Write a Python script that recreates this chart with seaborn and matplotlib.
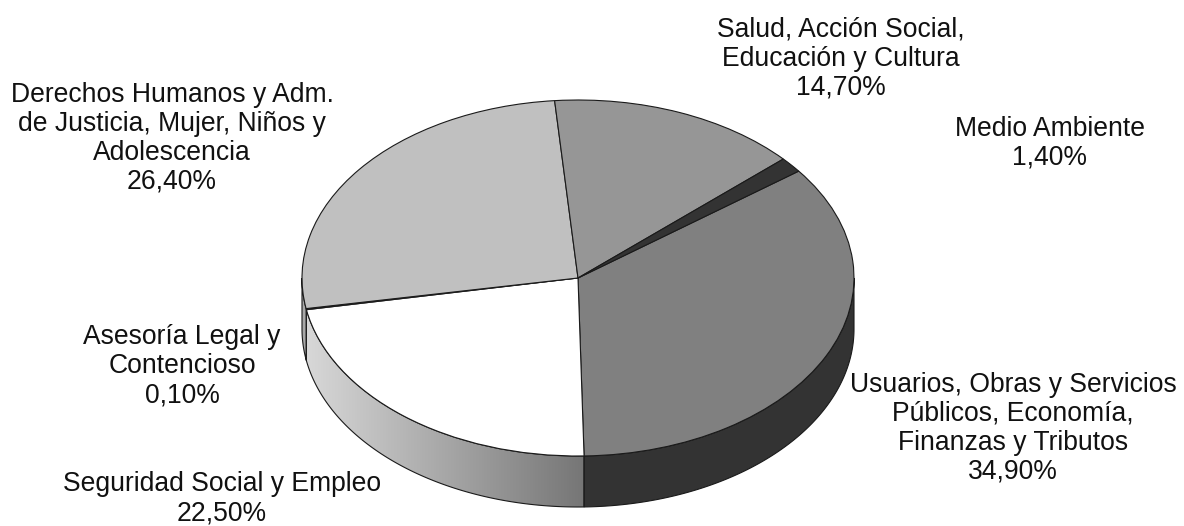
import numpy as np
import matplotlib
matplotlib.use("Agg")
import matplotlib.pyplot as plt
import matplotlib.patches as mpatches
import matplotlib.transforms as mtransforms
import seaborn as sns

# ---- data (clockwise from the Medio Ambiente / Usuarios border) ----
categories = [
    "Usuarios, Obras y Servicios\nPúblicos, Economía,\nFinanzas y Tributos",
    "Seguridad Social y Empleo",
    "Asesoría Legal y\nContencioso",
    "Derechos Humanos y Adm.\nde Justicia, Mujer, Niños y\nAdolescencia",
    "Salud, Acción Social,\nEducación y Cultura",
    "Medio Ambiente",
]
shares = [34.9, 22.5, 0.1, 26.4, 14.7, 1.4]

# ---- styling ----
top_colors = ["#808080", "#ffffff", "#dcdcdc", "#c0c0c0", "#969696", "#333333"]
side_colors = ["#333333", None, "#b4b4b4", "#a8a8a8", "#6e6e6e", "#222222"]
gradient_ends = ["#d8d8d8", "#767676"]   # shaded side of the white slice
label_pos = [(1013, 392), (222, 491), (182, 344), (172, 102), (841, 37), (1050, 136)]
LINE_STEP = 29
FS = 19.1

W, H = 1184, 526
CX, CY = 578, 278      # centre of the top face (px)
RX, RY = 276, 178      # ellipse radii (px)
DEPTH = 51 / RY        # thickness in unit-circle y units
START = 36.9

sns.set_style("white")
plt.rcParams["font.family"] = ["Liberation Sans", "DejaVu Sans"]

fig = plt.figure(figsize=(W / 100, H / 100), dpi=100)
ax = fig.add_axes([0, 0, 1, 1])

wedges, _ = ax.pie(shares, startangle=START, counterclock=False, colors=top_colors,
                   wedgeprops=dict(edgecolor="#1a1a1a", linewidth=0.8))
ax.set_aspect("auto")
ax.set_xlim(0, W)
ax.set_ylim(H, 0)
ax.axis("off")

# unit circle -> tilted ellipse in pixel space
unit = mtransforms.Affine2D().scale(RX, -RY).translate(CX, CY)
for w in wedges:
    w.set_transform(unit + ax.transData)
    w.set_zorder(4)


def side_poly(lo, hi):
    t = np.radians(np.linspace(lo, hi, 120))
    top = np.column_stack([np.cos(t), np.sin(t)])
    bot = np.column_stack([np.cos(t[::-1]), np.sin(t[::-1]) - DEPTH])
    return np.vstack([top, bot])


grad_cmap = sns.blend_palette(gradient_ends, as_cmap=True)

# front wall of the pie (only the part facing the viewer)
for w, sc in zip(wedges, side_colors):
    for off in (-360, 0, 360):
        lo = max(w.theta1, 180 + off)
        hi = min(w.theta2, 360 + off)
        if hi <= lo:
            continue
        pts = side_poly(lo, hi)
        if sc is None:
            clip = mpatches.Polygon(pts, closed=True, facecolor="none", edgecolor="none",
                                    transform=unit + ax.transData)
            ax.add_patch(clip)
            px = unit.transform(pts)
            x0, x1 = px[:, 0].min(), px[:, 0].max()
            y0, y1 = px[:, 1].min(), px[:, 1].max()
            im = ax.imshow(np.linspace(0, 1, 256)[None, :], cmap=grad_cmap, aspect="auto",
                           extent=(x0, x1, y1, y0), zorder=2)
            im.set_clip_path(clip)
            ax.add_patch(mpatches.Polygon(pts, closed=True, facecolor="none",
                                          edgecolor="#1a1a1a", linewidth=0.8, zorder=3,
                                          transform=unit + ax.transData))
        else:
            ax.add_patch(mpatches.Polygon(pts, closed=True, facecolor=sc,
                                          edgecolor="#1a1a1a", linewidth=0.8, zorder=3,
                                          transform=unit + ax.transData))

ax.set_xlim(0, W)
ax.set_ylim(H, 0)

# labels: name lines + percentage
for name, v, (lx, ly) in zip(categories, shares, label_pos):
    lines = name.split("\n") + [f"{v:.2f}".replace(".", ",") + "%"]
    for k, line in enumerate(lines):
        ax.text(lx, ly + k * LINE_STEP, line, ha="center", va="baseline",
                fontsize=FS, color="#111111", zorder=5)

fig.savefig("out.png", dpi=100, facecolor="white")
